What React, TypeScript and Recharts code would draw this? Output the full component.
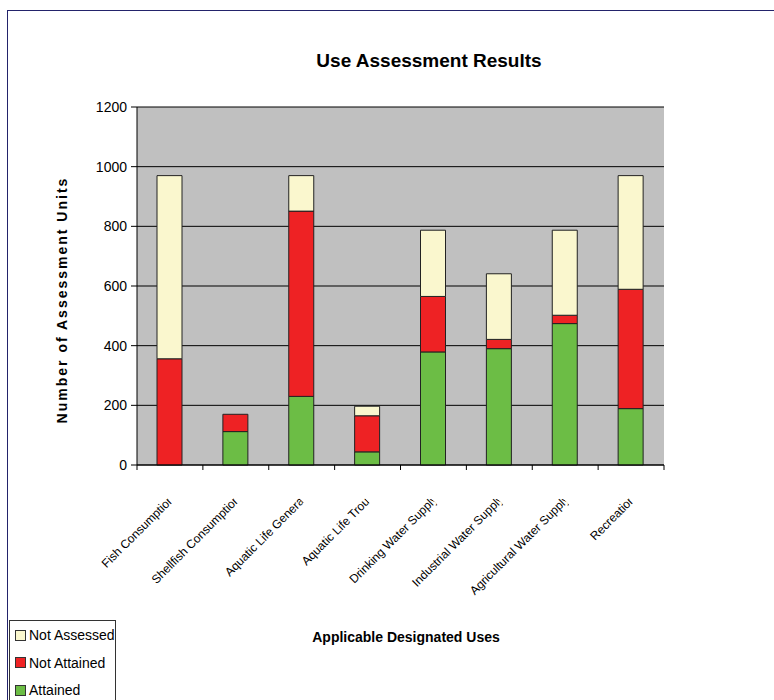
import React from 'react';
import { BarChart, Bar, XAxis, YAxis, CartesianGrid } from 'recharts';

const uses = [
  'Fish Consumption',
  'Shellfish Consumption',
  'Aquatic Life General',
  'Aquatic Life Trout',
  'Drinking Water Supply',
  'Industrial Water Supply',
  'Agricultural Water Supply',
  'Recreation',
];
const attained = [0, 112, 230, 44, 379, 390, 474, 189];
const notAttained = [356, 58, 621, 121, 186, 31, 28, 400];
const notAssessed = [614, 0, 119, 32, 222, 220, 285, 381];
const yTicks = [0, 200, 400, 600, 800, 1000, 1200];

const series = [
  { key: 'attained', name: 'Attained', color: '#6CBD45' },
  { key: 'notAttained', name: 'Not Attained', color: '#EE2224' },
  { key: 'notAssessed', name: 'Not Assessed', color: '#FAF7CE' },
];

const data = uses.map((name, i) => ({
  name,
  attained: attained[i],
  notAttained: notAttained[i],
  notAssessed: notAssessed[i],
}));

const font = '"Liberation Sans", Arial, sans-serif';

// excel clipped the long labels at the end, so clip the last few px.
// tick marks sit between categories, like excel draws them
function UseTick(props: any) {
  const { x, y, payload, index } = props;
  const id = `tickclip${index}`;
  const half = payload.offset || 0;
  const last = index === uses.length - 1;
  return (
    <g>
      <line x1={x - half} x2={x - half} y1={y - 8} y2={y - 3} stroke="#000" />
      {last && <line x1={x + half} x2={x + half} y1={y - 8} y2={y - 3} stroke="#000" />}
      <g transform={`translate(${x + 5},${y + 27})`}>
        <defs>
          <clipPath id={id}>
            <rect x={-400} y={-20} width={396} height={30} />
          </clipPath>
        </defs>
        <g transform="rotate(-45)" clipPath={`url(#${id})`}>
          <text textAnchor="end" fontSize={12} fontFamily={font} fill="#000">
            {payload.value}
          </text>
        </g>
      </g>
    </g>
  );
}

export default function App() {
  return (
    <div style={{ position: 'absolute', left: 0, top: 0, width: 774, height: 700, background: '#fff', overflow: 'hidden', fontFamily: font }}>
      <div style={{ position: 'absolute', left: 7, top: 10, width: 900, height: 800, borderLeft: '1px solid #23236b', borderTop: '1px solid #23236b' }} />
      <div style={{ position: 'absolute', left: 0, width: 858, top: 50, textAlign: 'center', fontWeight: 'bold', fontSize: 19 }}>
        Use Assessment Results
      </div>
      <div
        style={{
          position: 'absolute',
          left: 62,
          top: 300,
          transform: 'translate(-50%, -50%) rotate(-90deg)',
          whiteSpace: 'nowrap',
          fontWeight: 'bold',
          fontSize: 14,
          letterSpacing: 2,
        }}
      >
        Number of Assessment Units
      </div>
      <div style={{ position: 'absolute', left: 0, width: 812, top: 629, textAlign: 'center', fontWeight: 'bold', fontSize: 14 }}>
        Applicable Designated Uses
      </div>
      <BarChart
        width={774}
        height={700}
        data={data}
        margin={{ top: 107, right: 110, bottom: 234, left: 0 }}
        barSize={25}
      >
        <CartesianGrid vertical={false} stroke="#000" fill="#C0C0C0" fillOpacity={1} />
        <XAxis
          dataKey="name"
          height={1}
          interval={0}
          tickLine={false}
          axisLine={{ stroke: '#000' }}
          tickSize={0}
          tickMargin={8}
          tick={UseTick}
        />
        <YAxis
          width={137}
          domain={[0, 1200]}
          ticks={yTicks}
          interval={0}
          tickSize={6}
          tickMargin={4}
          axisLine={{ stroke: '#000' }}
          tickLine={{ stroke: '#000' }}
          tick={{ fill: '#000', fontSize: 14, fontFamily: font }}
        />
        {series.map((s) => (
          <Bar
            key={s.key}
            dataKey={s.key}
            name={s.name}
            stackId="a"
            fill={s.color}
            stroke="#222"
            strokeWidth={1}
            isAnimationActive={false}
          />
        ))}
      </BarChart>
      <div style={{ position: 'absolute', left: 9, top: 620, width: 105, height: 90, border: '1px solid #333', background: '#fff' }}>
        {[...series].reverse().map((s, i) => (
          <div key={s.key} style={{ position: 'absolute', left: 5, top: 6 + i * 27.5, display: 'flex', alignItems: 'center', fontSize: 14, whiteSpace: 'nowrap' }}>
            <span style={{ display: 'inline-block', width: 9, height: 9, background: s.color, border: '1px solid #333', marginRight: 3 }} />
            {s.name}
          </div>
        ))}
      </div>
    </div>
  );
}
